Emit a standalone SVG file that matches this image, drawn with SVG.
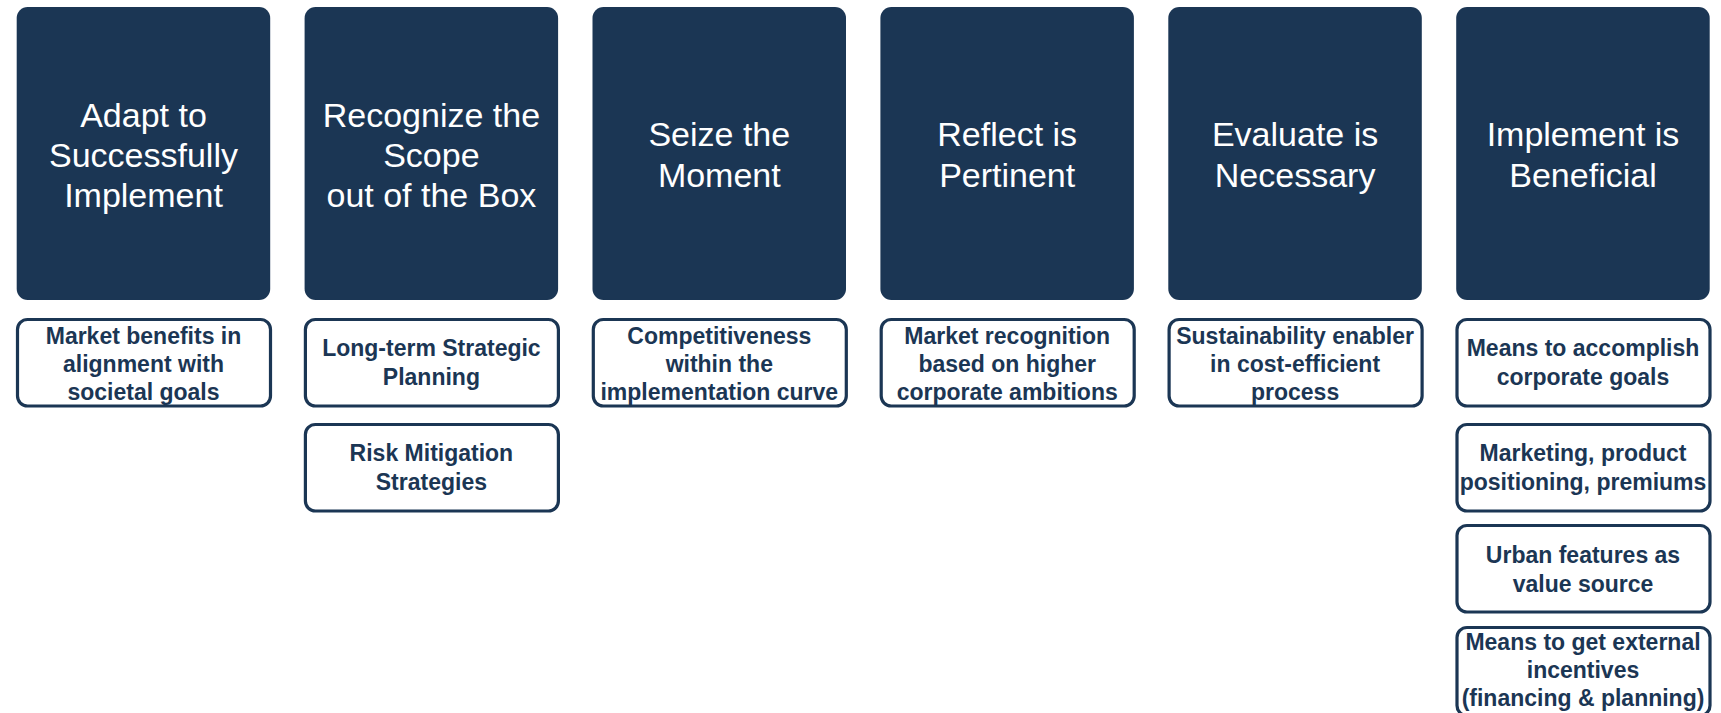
<svg xmlns="http://www.w3.org/2000/svg" width="1721" height="713" viewBox="0 0 1721 713">
<style>
.head{fill:#1b3654}
.ht{fill:#ffffff;font-family:"Liberation Sans",Arial,sans-serif;font-size:34px;text-anchor:middle}
.sub{fill:#ffffff;stroke:#1b3654;stroke-width:3.2}
.st{fill:#1b3654;font-family:"Liberation Sans",Arial,sans-serif;font-size:23px;font-weight:bold;text-anchor:middle}
</style>
<rect width="1721" height="713" fill="#ffffff"/>
<g id="col1">
<rect class="head" x="16.7" y="7" width="253.5" height="293" rx="11"/>
<text class="ht"><tspan x="143.5" y="127">Adapt to</tspan><tspan x="143.5" y="167">Successfully</tspan><tspan x="143.5" y="207">Implement</tspan></text>
<rect class="sub" x="17.5" y="319.5" width="253" height="86.5" rx="10"/>
<text class="st"><tspan x="143.5" y="344">Market benefits in</tspan><tspan x="143.5" y="372">alignment with</tspan><tspan x="143.5" y="400">societal goals</tspan></text>
</g>
<g id="col2">
<rect class="head" x="304.6" y="7" width="253.5" height="293" rx="11"/>
<text class="ht"><tspan x="431.4" y="127">Recognize the</tspan><tspan x="431.4" y="167">Scope</tspan><tspan x="431.4" y="207">out of the Box</tspan></text>
<rect class="sub" x="305.4" y="319.5" width="253" height="86.5" rx="10"/>
<text class="st"><tspan x="431.4" y="356">Long-term Strategic</tspan><tspan x="431.4" y="385">Planning</tspan></text>
<rect class="sub" x="305.4" y="424.5" width="253" height="86.5" rx="10"/>
<text class="st"><tspan x="431.4" y="461">Risk Mitigation</tspan><tspan x="431.4" y="490">Strategies</tspan></text>
</g>
<g id="col3">
<rect class="head" x="592.5" y="7" width="253.5" height="293" rx="11"/>
<text class="ht"><tspan x="719.3" y="146">Seize the</tspan><tspan x="719.3" y="187">Moment</tspan></text>
<rect class="sub" x="593.3" y="319.5" width="253" height="86.5" rx="10"/>
<text class="st"><tspan x="719.3" y="344">Competitiveness</tspan><tspan x="719.3" y="372">within the</tspan><tspan x="719.3" y="400">implementation curve</tspan></text>
</g>
<g id="col4">
<rect class="head" x="880.4" y="7" width="253.5" height="293" rx="11"/>
<text class="ht"><tspan x="1007.2" y="146">Reflect is</tspan><tspan x="1007.2" y="187">Pertinent</tspan></text>
<rect class="sub" x="881.2" y="319.5" width="253" height="86.5" rx="10"/>
<text class="st"><tspan x="1007.2" y="344">Market recognition</tspan><tspan x="1007.2" y="372">based on higher</tspan><tspan x="1007.2" y="400">corporate ambitions</tspan></text>
</g>
<g id="col5">
<rect class="head" x="1168.3" y="7" width="253.5" height="293" rx="11"/>
<text class="ht"><tspan x="1295.1" y="146">Evaluate is</tspan><tspan x="1295.1" y="187">Necessary</tspan></text>
<rect class="sub" x="1169.1" y="319.5" width="253" height="86.5" rx="10"/>
<text class="st"><tspan x="1295.1" y="344">Sustainability enabler</tspan><tspan x="1295.1" y="372">in cost-efficient</tspan><tspan x="1295.1" y="400">process</tspan></text>
</g>
<g id="col6">
<rect class="head" x="1456.2" y="7" width="253.5" height="293" rx="11"/>
<text class="ht"><tspan x="1583" y="146">Implement is</tspan><tspan x="1583" y="187">Beneficial</tspan></text>
<rect class="sub" x="1457" y="319.5" width="253" height="86.5" rx="10"/>
<text class="st"><tspan x="1583" y="356">Means to accomplish</tspan><tspan x="1583" y="385">corporate goals</tspan></text>
<rect class="sub" x="1457" y="424.5" width="253" height="86.5" rx="10"/>
<text class="st"><tspan x="1583" y="461">Marketing, product</tspan><tspan x="1583" y="490">positioning, premiums</tspan></text>
<rect class="sub" x="1457" y="525.5" width="253" height="86.5" rx="10"/>
<text class="st"><tspan x="1583" y="563">Urban features as</tspan><tspan x="1583" y="592">value source</tspan></text>
<rect class="sub" x="1457" y="627.5" width="253" height="88" rx="10"/>
<text class="st"><tspan x="1583" y="650">Means to get external</tspan><tspan x="1583" y="678">incentives</tspan><tspan x="1583" y="706">(financing &amp; planning)</tspan></text>
</g>
<g id="connectors"></g>
</svg>
